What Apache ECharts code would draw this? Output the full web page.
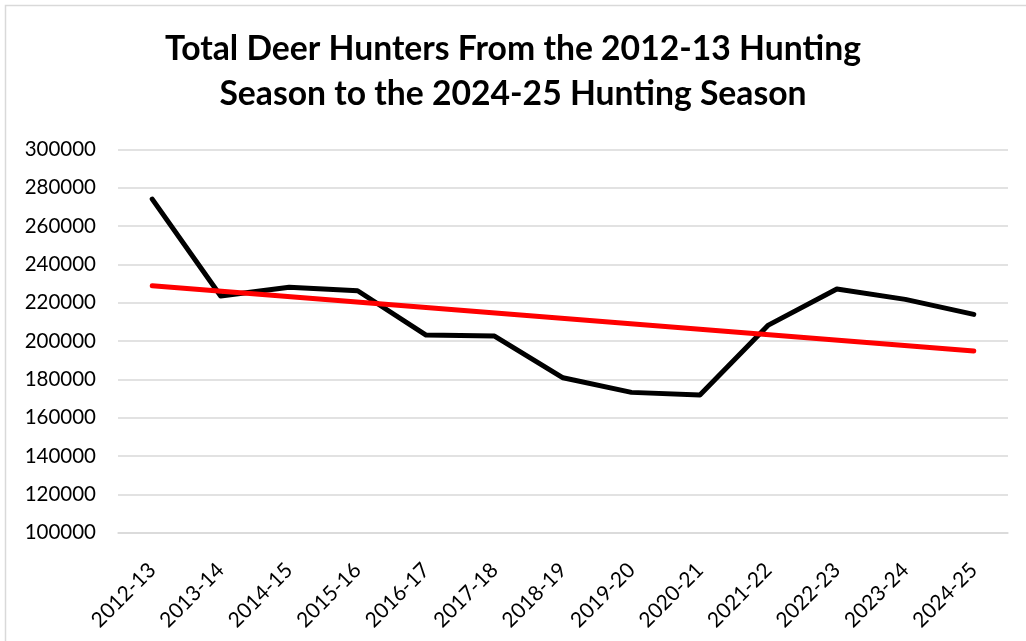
<!DOCTYPE html>
<html>
<head>
<meta charset="utf-8">
<script src="https://cdn.jsdelivr.net/npm/echarts@6/dist/echarts.min.js"></script>
<style>
html,body{margin:0;padding:0;background:#fff;}
#chart{width:1026px;height:641px;}
</style>
</head>
<body>
<div id="chart"></div>
<script>
var categories = ['2012-13','2013-14','2014-15','2015-16','2016-17','2017-18','2018-19','2019-20','2020-21','2021-22','2022-23','2023-24','2024-25'];
var hunters = [274000, 223500, 228000, 226200, 203100, 202600, 180800, 173200, 171800, 208300, 227100, 221700, 213900];
var trend = [228800, null, null, null, null, null, null, null, null, null, null, null, 194800];
var titleLines = ['Total Deer Hunters From the 2012-13 Hunting', 'Season to the 2024-25 Hunting Season'];

var chart = echarts.init(document.getElementById('chart'));
chart.setOption({
  animation: false,
  backgroundColor: '#fff',
  graphic: [{
    type: 'rect',
    shape: {x: 5.5, y: 5.5, width: 1040, height: 660},
    style: {fill: 'none', stroke: '#d9d9d9', lineWidth: 1.5},
    silent: true
  }],
  title: {
    text: titleLines.join('\n'),
    left: 'center',
    top: 22,
    textStyle: {fontFamily: 'Lato', fontWeight: 'bold', fontSize: 33.7, color: '#000', lineHeight: 44.5}
  },
  grid: {left: 118, right: 18, top: 149.3, bottom: 108.3, containLabel: false},
  xAxis: {
    type: 'category',
    data: categories,
    boundaryGap: true,
    axisLine: {show: true, lineStyle: {color: '#d9d9d9', width: 1.5}},
    axisTick: {show: false},
    axisLabel: {rotate: 45, margin: 34, fontFamily: 'Lato', fontSize: 21, color: '#000', interval: 0}
  },
  yAxis: {
    type: 'value',
    min: 100000,
    max: 300000,
    interval: 20000,
    axisLine: {show: false},
    axisTick: {show: false},
    axisLabel: {margin: 22, fontFamily: 'Lato', fontSize: 20.5, color: '#000', formatter: function (v) { return String(v); }},
    splitLine: {lineStyle: {color: '#d9d9d9', width: 1.5}}
  },
  series: [{
    type: 'line',
    data: hunters,
    symbol: 'none',
    lineStyle: {color: '#000', width: 5, cap: 'round', join: 'round'},
    z: 2
  }, {
    type: 'line',
    data: trend,
    connectNulls: true,
    symbol: 'none',
    lineStyle: {color: '#ff0000', width: 5, cap: 'round'},
    z: 3
  }]
});
</script>
</body>
</html>
